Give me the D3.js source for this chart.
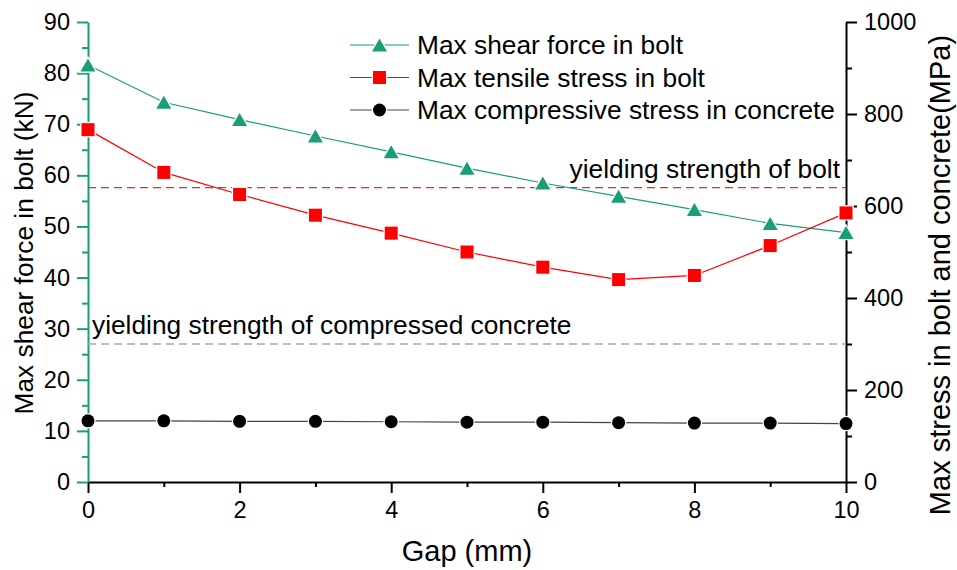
<!DOCTYPE html>
<html>
<head>
<meta charset="utf-8">
<script src="https://cdn.jsdelivr.net/npm/d3@7"></script>
<style>
  html, body { margin: 0; padding: 0; background: #fff; }
  svg { display: block; font-family: "Liberation Sans", Arial, sans-serif; }
</style>
</head>
<body>
<svg id="chart" width="957" height="570"></svg>
<script>
// Gap between members (mm)
const gaps = [0, 1, 2, 3, 4, 5, 6, 7, 8, 9, 10];
// Max shear force in bolt (kN), left axis
const shearForce = [81.6, 74.3, 70.9, 67.7, 64.6, 61.4, 58.5, 55.9, 53.3, 50.6, 48.8];
// Max tensile stress in bolt (MPa), right axis
const tensileStress = [766, 673, 625, 580, 541, 500, 467, 440, 449, 514, 585];
// Max compressive stress in concrete (MPa), right axis
const compressiveStress = [133, 133, 132, 132, 131, 130, 130, 129, 128, 128, 127];
// Reference strengths (MPa)
const boltYield = 640;
const concreteYield = 300;

const leftTicks = [0, 10, 20, 30, 40, 50, 60, 70, 80, 90];
const rightTicks = [0, 200, 400, 600, 800, 1000];
const xTicks = [0, 2, 4, 6, 8, 10];

const legendLabels = [
  "Max shear force in bolt",
  "Max tensile stress in bolt",
  "Max compressive stress in concrete"
];

const GREEN = "#1b9e77", RED = "#ff0000", BLACK = "#000";

const svg = d3.select("#chart");
const x = d3.scaleLinear().domain([0, 10]).range([88, 846]);
const yL = d3.scaleLinear().domain([0, 90]).range([482, 22]);
const yR = d3.scaleLinear().domain([0, 1000]).range([482, 22]);

const tickFont = "23.5px";
const labelFont = "26.3px";
const titleFont = "29px";

// ---- axes ----
function styleAxis(g, color, textColor) {
  g.select(".domain").attr("stroke", color).attr("stroke-width", 2);
  g.selectAll(".tick line").attr("stroke", color).attr("stroke-width", 2);
  g.selectAll(".tick text").attr("fill", textColor).style("font-size", tickFont)
    .style("font-family", "'Liberation Sans', Arial, sans-serif");
}

// minor ticks
svg.append("g").attr("transform", "translate(88,0)")
  .call(d3.axisLeft(yL).tickValues(d3.range(5, 90, 10)).tickSize(6).tickFormat(""))
  .call(g => { g.select(".domain").remove(); g.selectAll("line").attr("stroke", GREEN).attr("stroke-width", 2); });
svg.append("g").attr("transform", "translate(846,0)")
  .call(d3.axisRight(yR).tickValues(d3.range(100, 1000, 200)).tickSize(6).tickFormat(""))
  .call(g => { g.select(".domain").remove(); g.selectAll("line").attr("stroke", BLACK).attr("stroke-width", 2); });
svg.append("g").attr("transform", "translate(0,482)")
  .call(d3.axisBottom(x).tickValues(d3.range(1, 10, 2)).tickSize(5).tickFormat(""))
  .call(g => { g.select(".domain").remove(); g.selectAll("line").attr("stroke", BLACK).attr("stroke-width", 2); });

// major axes
svg.append("g").attr("transform", "translate(0,482)")
  .call(d3.axisBottom(x).tickValues(xTicks).tickSize(11).tickSizeOuter(0).tickPadding(8)
    .tickFormat(d3.format("d")))
  .call(g => styleAxis(g, BLACK, BLACK));
svg.append("g").attr("transform", "translate(846,0)")
  .call(d3.axisRight(yR).tickValues(rightTicks).tickSize(11).tickSizeOuter(0).tickPadding(7)
    .tickFormat(d3.format("d")))
  .call(g => styleAxis(g, BLACK, BLACK));
svg.append("g").attr("transform", "translate(88,0)")
  .call(d3.axisLeft(yL).tickValues(leftTicks).tickSize(11).tickSizeOuter(0).tickPadding(7)
    .tickFormat(d3.format("d")))
  .call(g => styleAxis(g, GREEN, BLACK));

// ---- reference lines ----
svg.append("line")
  .attr("x1", x(0)).attr("x2", x(10))
  .attr("y1", yR(boltYield)).attr("y2", yR(boltYield))
  .attr("stroke", "#f02828").attr("stroke-width", 1.3).attr("stroke-dasharray", "8,5");
svg.append("line")
  .attr("x1", x(0)).attr("x2", x(10))
  .attr("y1", yR(concreteYield)).attr("y2", yR(concreteYield))
  .attr("stroke", "#a6a6a6").attr("stroke-width", 1.5).attr("stroke-dasharray", "8,5");

svg.append("text").attr("x", 840).attr("y", yR(boltYield) - 10)
  .attr("text-anchor", "end").style("font-size", labelFont)
  .text("yielding strength of bolt");
svg.append("text").attr("x", 92).attr("y", yR(concreteYield) - 10)
  .style("font-size", labelFont)
  .text("yielding strength of compressed concrete");

// ---- markers ----
function triPath(w, h) {
  return `M0,${-h / 2}L${w / 2},${h / 2}L${-w / 2},${h / 2}Z`;
}
function drawMarker(g, type, color) {
  if (type === "tri") {
    g.append("path").attr("d", triPath(15, 13)).attr("fill", color)
      .attr("stroke", "#fff").attr("stroke-width", 2.5).attr("paint-order", "stroke");
  } else if (type === "sq") {
    g.append("rect").attr("x", -6.5).attr("y", -6.5).attr("width", 13).attr("height", 13)
      .attr("fill", color).attr("stroke", "#fff").attr("stroke-width", 2.5).attr("paint-order", "stroke");
  } else {
    g.append("circle").attr("r", 6.5).attr("fill", color)
      .attr("stroke", "#fff").attr("stroke-width", 2.5).attr("paint-order", "stroke");
  }
}

const series = [
  { values: shearForce, scale: yL, color: GREEN, line: GREEN, marker: "tri" },
  { values: tensileStress, scale: yR, color: RED, line: RED, marker: "sq" },
  { values: compressiveStress, scale: yR, color: BLACK, line: "#444", marker: "dot" }
];

series.forEach(s => {
  const line = d3.line().x((d, i) => x(gaps[i])).y(d => s.scale(d));
  svg.append("path").datum(s.values).attr("d", line)
    .attr("fill", "none").attr("stroke", s.line).attr("stroke-width", 1.2);
});
series.forEach(s => {
  s.values.forEach((v, i) => {
    const g = svg.append("g").attr("transform", `translate(${x(gaps[i])},${s.scale(v)})`);
    drawMarker(g, s.marker, s.color);
  });
});

// ---- legend ----
const legend = svg.append("g").attr("transform", "translate(350,45)");
series.forEach((s, i) => {
  const row = legend.append("g").attr("transform", `translate(0,${i * 32.5})`);
  row.append("line").attr("x1", 0).attr("x2", 59).attr("y1", 0).attr("y2", 0)
    .attr("stroke", s.line).attr("stroke-width", 1.2);
  const m = row.append("g").attr("transform", "translate(29.5,0)");
  drawMarker(m, s.marker, s.color);
  row.append("text").attr("x", 67).attr("y", 0).attr("dy", "0.36em")
    .style("font-size", labelFont).text(legendLabels[i]);
});

// ---- axis titles ----
svg.append("text").attr("x", 467).attr("y", 561).attr("text-anchor", "middle")
  .style("font-size", titleFont).text("Gap (mm)");
svg.append("text").attr("transform", "translate(33,253) rotate(-90)")
  .attr("text-anchor", "middle").style("font-size", labelFont)
  .text("Max shear force in bolt (kN)");
svg.append("text").attr("transform", "translate(950,275) rotate(-90)")
  .attr("text-anchor", "middle").style("font-size", titleFont)
  .text("Max stress in bolt and concrete(MPa)");
</script>
</body>
</html>
